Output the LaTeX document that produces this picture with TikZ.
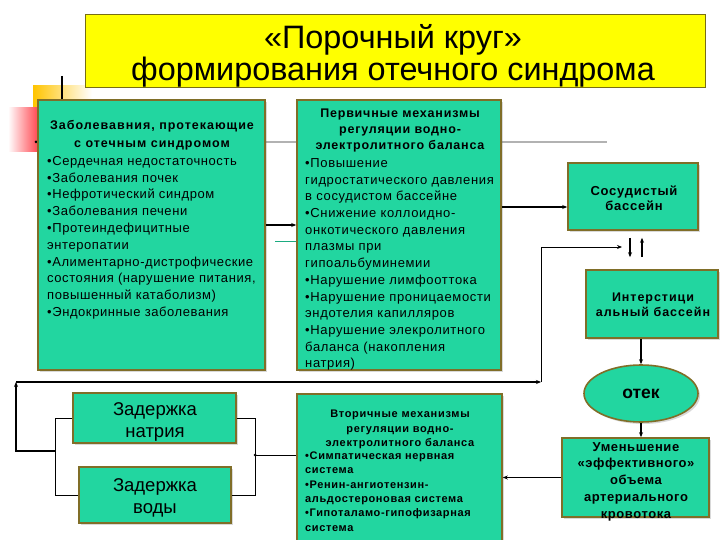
\documentclass[tikz,border=0pt]{standalone}
\usepackage{fontspec}
\setmainfont{Liberation Sans}
\usetikzlibrary{arrows.meta,shapes.geometric,shadows}
\definecolor{tealbox}{RGB}{34,214,160}
\definecolor{boxline}{RGB}{128,110,40}
\definecolor{titlebg}{RGB}{255,255,0}
\definecolor{titleline}{RGB}{120,110,20}
\definecolor{decoyellow}{RGB}{255,196,0}
\definecolor{decored}{RGB}{255,60,70}
\newcommand\fsz[3]{\fontsize{#1}{#2}\selectfont\addfontfeature{LetterSpace=#3}}
\begin{document}
\begin{tikzpicture}[x=1pt,y=-1pt,
  box/.style={draw=boxline, line width=1.6pt, fill=tealbox, inner sep=0pt,
    drop shadow={shadow xshift=2pt, shadow yshift=-2pt, opacity=0.25, fill=black!60}},
  titlebox/.style={draw=titleline, line width=1pt, fill=titlebg, inner sep=0pt},
  txt/.style={inner sep=0pt, text=black},
  arr/.style={line width=1.3pt, -{Stealth[length=5pt,width=4pt]}},
  ln/.style={line width=0.9pt}]
\useasboundingbox (0,0) rectangle (720,540);
% decorations
\shade[left color=decoyellow, right color=white] (33,86) rectangle (92,136);
\shade[left color=white, right color=decored] (8,108) rectangle (40,152);
\draw[line width=1.5pt] (62,76) -- (62,100);
\draw[line width=2pt, black!30] (36,142) -- (607,142);
\fill (36,142) circle (1.5pt);
\draw[line width=1pt, tealbox!80!black] (275,241) -- (297,241);
% title
\node[titlebox, minimum width=620pt, minimum height=73pt] (title) at (395,51.5) {};
\node[txt, font=\fontsize{32.4}{32}\selectfont, align=center] (titletext) at (393,55.5)
  {«Порочный круг»\\формирования отечного синдрома};
% left box
\node[box, minimum width=227pt, minimum height=270pt] (dis) at (151.5,235) {};
\node[txt, font=\bfseries\fsz{12.5}{18}{8}, align=center] (dishead) at (152,135)
  {Заболевавния, протекающие\\с отечным синдромом};
\node[txt, font=\fsz{13}{16.8}{4.5}, align=left, anchor=north west] (dislist) at (47,156)
  {•Сердечная недостаточность\\•Заболевания почек\\•Нефротический синдром\\•Заболевания печени\\•Протеиндефицитные\\энтеропатии\\•Алиментарно-дистрофические\\состояния (нарушение питания,\\повышенный катаболизм)\\•Эндокринные заболевания};
% primary box
\node[box, minimum width=204pt, minimum height=270pt] (prim) at (399,235) {};
\node[txt, font=\bfseries\fsz{12.5}{16}{6.4}, align=center] (primhead) at (400,130.5)
  {Первичные механизмы\\регуляции водно-\\электролитного баланса};
\node[txt, font=\fsz{13}{16.67}{5}, align=left, anchor=north west] (primlist) at (305,158.5)
  {•Повышение\\гидростатического давления\\в сосудистом бассейне\\•Снижение коллоидно-\\онкотического давления\\плазмы при\\гипоальбуминемии\\•Нарушение лимфооттока\\•Нарушение проницаемости\\эндотелия капилляров\\•Нарушение элекролитного\\баланса (накопления\\натрия)};
% secondary box
\node[box, minimum width=205pt, minimum height=156pt] (sec) at (399.5,472) {};
\node[txt, font=\bfseries\fsz{11}{14.5}{6.4}, align=center] (sechead) at (400,429.5)
  {Вторичные механизмы\\регуляции водно-\\электролитного баланса};
\node[txt, font=\bfseries\fsz{11}{14.4}{5.7}, align=left, anchor=north west] (seclist) at (305,451.5)
  {•Симпатическая нервная\\система\\•Ренин-ангиотензин-\\альдостероновая система\\•Гипоталамо-гипофизарная\\система};
% right column
\node[box, minimum width=130pt, minimum height=67pt] (vasc) at (633,196.5) {};
\node[txt, font=\bfseries\fsz{13}{15}{5.7}, align=center] (vasctext) at (634,198)
  {Сосудистый\\бассейн};
\node[box, minimum width=132pt, minimum height=68pt] (inter) at (652,304) {};
\node[txt, font=\bfseries\fsz{12.5}{15}{7.6}, align=center] (intertext) at (653,305)
  {Интерстици\\альный бассейн};
\node[box, ellipse, minimum width=114pt, minimum height=57pt, font=\bfseries\fontsize{17.5}{20}\selectfont] (edema) at (641,393.5)
  {отек};
\node[box, minimum width=147pt, minimum height=79pt] (dec) at (635.5,477.5) {};
\node[txt, font=\bfseries\fsz{13}{16.75}{4.5}, align=center] (dectext) at (636,481.5)
  {Уменьшение\\«эффективного»\\объема\\артериального\\кровотока};
% retention boxes
\node[box, minimum width=163pt, minimum height=50pt] (sod) at (154.5,418) {};
\node[txt, font=\fontsize{18.5}{22}\selectfont, align=center] (sodtext) at (155,422)
  {Задержка\\натрия};
\node[box, minimum width=152pt, minimum height=56pt] (water) at (155,495) {};
\node[txt, font=\fontsize{18.5}{22}\selectfont, align=center] (watertext) at (155,497.5)
  {Задержка\\воды};
% coordinates
\coordinate (c225) at (0,225);
\coordinate (c207) at (0,207);
\coordinate (d1) at (630,0);
\coordinate (u1) at (642,0);
\coordinate (lbt) at (55,418);
\coordinate (lbb) at (55,495);
\coordinate (lbm) at (55,451);
\coordinate (lx) at (16,451);
\coordinate (lc) at (16,382);
\coordinate (rc) at (541,382);
\coordinate (rt) at (541,247);
\coordinate (re) at (622,247);
\coordinate (rbt) at (255,418);
\coordinate (rbb) at (255,495);
\coordinate (rbm) at (255,455);
% connectors
\draw[arr] (dis.east |- c225) -- (prim.west |- c225);
\draw[arr] (prim.east |- c207) -- (vasc.west |- c207);
\draw[arr, shorten <=7pt, shorten >=12pt] (vasc.south -| d1) -- (inter.north -| d1);
\draw[arr, shorten <=12pt, shorten >=7pt] (inter.north -| u1) -- (vasc.south -| u1);
\draw[arr] (edema.north |- inter.south) -- (edema.north);
\draw[arr] (edema.south) -- (edema.south |- dec.north);
\draw[arr] (dec.west) -- (dec.west -| sec.east);
\draw[ln] (sod.west) -- (lbt) -- (lbb) -- (water.west);
\draw[ln] (sod.east) -- (rbt) -- (rbb) -- (water.east);
\draw[ln] (rbm) -- (rbm -| sec.west);
\fill (rbm) circle (1.5pt);
\draw[arr] (lbm) -- (lx) -- (lc);
\draw[arr] (lc) -- (rc);
\draw[arr, line width=1pt] (rc) -- (rt) -- (re);
\end{tikzpicture}
\end{document}
